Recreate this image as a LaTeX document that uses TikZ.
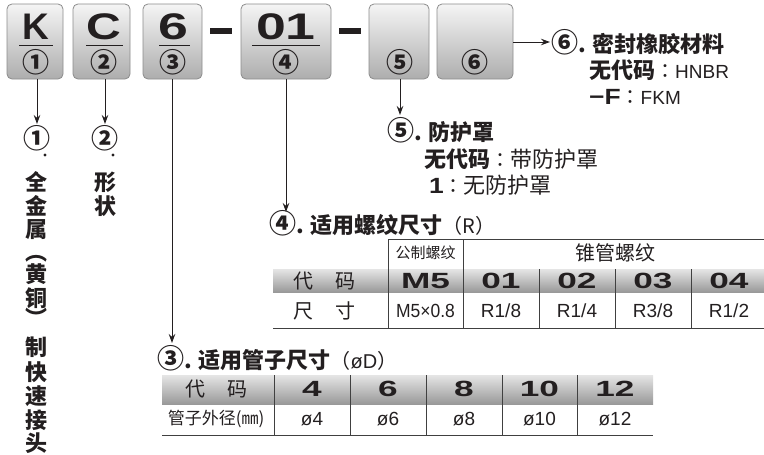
\documentclass[tikz,border=0pt]{standalone}
\usepackage{fontspec}
\usepackage{graphicx}
\setmainfont{Liberation Sans}
\newfontfamily\cjk{Noto Sans CJK SC}
\newfontfamily\cjktc{Noto Sans CJK TC}
\usetikzlibrary{arrows.meta}
\definecolor{ink}{HTML}{231F20}
\newcommand{\fsz}[1]{\fontsize{#1}{#1}\selectfont}
\newcommand{\xw}[2][1.5]{\scalebox{#1}[1]{#2}}
\newcommand{\ccolon}{{\cjktc\mdseries\fsz{20}：}}
\newcommand{\cn}[1]{{\fsz{27}#1}}
\begin{document}
\begin{tikzpicture}[x=1pt,y=-1pt,
  every node/.style={text=ink, inner sep=1pt},
  codebox/.style={draw=black!45, line width=0.8pt, rounded corners=5pt, top color=black!4, bottom color=black!32, minimum width=#1, minimum height=75pt},
  big/.style={font=\fsz{37}\bfseries, anchor=base},
  cnum/.style={font=\cjk\bfseries\fsz{27}, inner sep=0pt},
  arr/.style={draw=ink, line width=1pt, -{Stealth[length=9pt,width=6.5pt]}},
  vch/.style={font=\cjk\bfseries\fsz{22}, inner sep=0pt},
  hdr/.style={font=\cjk\bfseries\fsz{22}, anchor=west},
  sub/.style={font=\fsz{19}, anchor=west},
  band/.style={top color=black!10, bottom color=black!40, draw=none},
  tline/.style={draw=black!75, line width=0.8pt},
  tnum/.style={font=\fsz{22}\bfseries},
  tval/.style={font=\fsz{19}},
  tcj/.style={font=\cjk\fsz{20}}
]
\useasboundingbox (0,0) rectangle (764,455);

% ---- code boxes ----
\node[codebox=56pt] (b1) at (35,41.5) {};
\node[codebox=57pt] (b2) at (101.5,41.5) {};
\node[codebox=59pt] (b3) at (172.5,41.5) {};
\node[codebox=90pt] (b4) at (286,41.5) {};
\node[codebox=60pt] (b5) at (399,41.5) {};
\node[codebox=76pt] (b6) at (475,41.5) {};

\node[big] (k1) at (36,39) {K};
\node[big] (k2) at (104,39) {\xw[1.3]{C}};
\node[big] (k3) at (173,39) {\xw[1.45]{6}};
\node[big] (k4) at (286,39) {\xw[1.45]{01}};
\draw[ink, line width=1pt] (19,45) -- (53,45);
\draw[ink, line width=1pt] (86,45) -- (123,45);
\draw[ink, line width=1pt] (159,45) -- (190,45);
\draw[ink, line width=1pt] (252,45) -- (320,45);

\node[cnum] (n1) at (36,62) {①};
\node[cnum] (n2) at (104,62) {②};
\node[cnum] (n3) at (173,62) {③};
\node[cnum] (n4) at (286,62) {④};
\node[cnum] (n5) at (400,62) {⑤};
\node[cnum] (n6) at (475,62) {⑥};

% dashes
\fill[ink] (210,28) rectangle (232,33.5);
\fill[ink] (339,28) rectangle (361,33.5);

% ---- vertical texts ----
\node[cnum] (v1) at (37,138) {①};
\fill[ink] (45,155) circle (1.6pt);
\foreach \c/\y [count=\i] in {全/182,金/206,属/230,︵/259,黄/274,铜/298,︶/317,制/347,快/372,速/396,接/420,头/443}
  \node[vch] (va\i) at (37,\y) {\c};
\node[cnum] (v2) at (105,138) {②};
\fill[ink] (113,155) circle (1.6pt);
\node[vch] (vb1) at (105,182) {形};
\node[vch] (vb2) at (105,206) {状};

% ---- arrows ----
\coordinate (t3) at (172,343);
\coordinate (t4) at (286,212);
\coordinate (t5) at (400,115);
\coordinate (t6) at (550,42);
\coordinate (t1) at (37,124);
\coordinate (t2) at (105,124);
\draw[arr] (b1.south -| t1) -- (t1);
\draw[arr] (b2.south -| t2) -- (t2);
\draw[arr] (b3.south -| t3) -- (t3);
\draw[arr] (b4.south -| t4) -- (t4);
\draw[arr] (b5.south -| t5) -- (t5);
\draw[arr] (b6.east |- t6) -- (t6);

% ---- (6) ----
\node[hdr] (h6) at (550,42) {\cn{⑥}. 密封橡胶材料};
\node[sub] (h6a) at (588,70) {{\cjk\bfseries\fsz{22}无代码}\ccolon HNBR};
\node[sub] (h6b) at (588,97) {{\fsz{22}\bfseries\xw[1.2]{−F}}\ccolon FKM};

% ---- (5) ----
\node[hdr] (h5) at (386,130) {\cn{⑤}. 防护罩};
\node[sub] (h5a) at (423,159) {{\cjk\bfseries\fsz{22}无代码}\ccolon{\cjk\fsz{22}带防护罩}};
\node[sub] (h5b) at (428,185) {{\fsz{22}\bfseries\xw[1.2]{1}}\ccolon{\cjk\fsz{22}无防护罩}};

% ---- (4) table ----
\node[hdr] (h4) at (268,223) {\cn{④}. 适用螺纹尺寸{\mdseries\fsz{20}（R）}};
\fill[band] (273,269) rectangle (764,292);
\draw[tline] (388,239) -- (764,239);
\draw[tline] (273,328) -- (764,328);
\draw[tline] (388,239) -- (388,328);
\draw[tline] (463,239) -- (463,328);
\draw[tline] (539,269) -- (539,328);
\draw[tline] (615,269) -- (615,328);
\draw[tline] (691,269) -- (691,328);
\node[font=\cjk\fsz{15}] (g1) at (425.5,253) {公制螺纹};
\node[tcj] (g2) at (615,253) {锥管螺纹};
\node[tcj] (r1) at (324,281) {代\hspace{1.1em}码};
\node[tnum] (c1) at (425.5,281) {\xw[1.6]{M5}};
\node[tnum] (c2) at (501,281) {\xw[1.6]{01}};
\node[tnum] (c3) at (577,281) {\xw[1.6]{02}};
\node[tnum] (c4) at (653,281) {\xw[1.6]{03}};
\node[tnum] (c5) at (729,281) {\xw[1.6]{04}};
\node[tcj] (r2) at (324,311) {尺\hspace{1.1em}寸};
\node[tval] (d1) at (425.5,311) {\xw[0.92]{M5×0.8}};
\node[tval] (d2) at (501,311) {R1/8};
\node[tval] (d3) at (577,311) {R1/4};
\node[tval] (d4) at (653,311) {R3/8};
\node[tval] (d5) at (729,311) {R1/2};

% ---- (3) table ----
\node[hdr] (h3) at (156,358) {\cn{③}. 适用管子尺寸{\mdseries\fsz{20}（{\rmfamily øD}）}};
\fill[band] (162,375) rectangle (653,404);
\draw[tline] (162,435) -- (653,435);
\foreach \xx in {274,350,426,502,577}
  \draw[tline] (\xx,375) -- (\xx,435);
\node[tcj] (s0) at (216,389) {代\hspace{1.1em}码};
\node[tnum] (s1) at (312,389) {\xw[1.6]{4}};
\node[tnum] (s2) at (388,389) {\xw[1.6]{6}};
\node[tnum] (s3) at (464,389) {\xw[1.6]{8}};
\node[tnum] (s4) at (539.5,389) {\xw[1.6]{10}};
\node[tnum] (s5) at (615,389) {\xw[1.6]{12}};
\node[font=\cjk\fsz{17}] (p0) at (216,419) {管子外径(㎜)};
\node[tval] (p1) at (312,419) {ø4};
\node[tval] (p2) at (388,419) {ø6};
\node[tval] (p3) at (464,419) {ø8};
\node[tval] (p4) at (539.5,419) {ø10};
\node[tval] (p5) at (615,419) {ø12};
\end{tikzpicture}
\end{document}
